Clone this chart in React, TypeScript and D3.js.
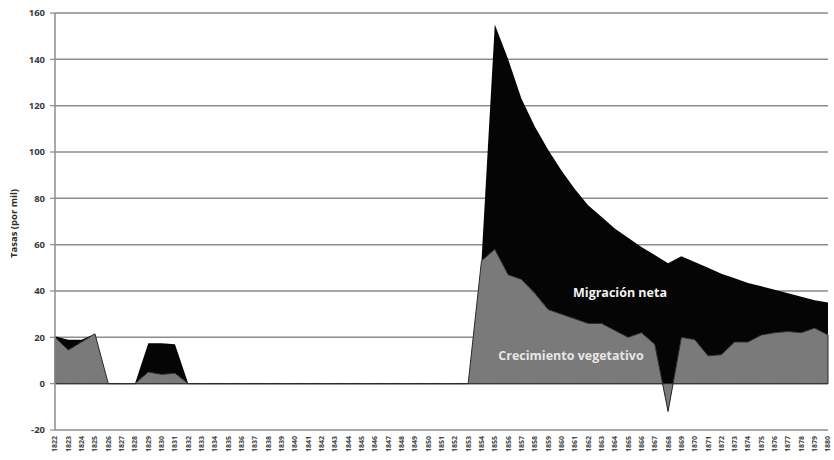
import React from "react";
import * as d3 from "d3";

// categorías (años)
const years = [
	1822, 1823, 1824, 1825, 1826, 1827, 1828, 1829, 1830, 1831, 1832, 1833, 1834, 1835, 1836,
	1837, 1838, 1839, 1840, 1841, 1842, 1843, 1844, 1845, 1846, 1847, 1848, 1849, 1850, 1851,
	1852, 1853, 1854, 1855, 1856, 1857, 1858, 1859, 1860, 1861, 1862, 1863, 1864, 1865, 1866,
	1867, 1868, 1869, 1870, 1871, 1872, 1873, 1874, 1875, 1876, 1877, 1878, 1879, 1880,
];

// Crecimiento vegetativo (por mil)
const vegetativo = [
	20, 14.5, 18, 21.5, 0, 0, 0, 5, 4, 4.5, 0, 0, 0, 0, 0,
	0, 0, 0, 0, 0, 0, 0, 0, 0, 0, 0, 0, 0, 0, 0,
	0, 0, 53, 58, 47, 45, 39, 32, 30, 28, 26, 26, 23, 20, 22,
	17, -12, 20, 19, 12, 12.5, 18, 18, 21, 22, 22.5, 22, 24, 21,
];

// Migración neta (por mil)
const migracion = [
	0.5, 4.5, 1, 0, 0, 0, 0, 12.5, 13.5, 12.5, 0, 0, 0, 0, 0,
	0, 0, 0, 0, 0, 0, 0, 0, 0, 0, 0, 0, 0, 0, 0,
	0, 0, 0, 97, 93, 78, 72, 69, 62, 56, 51, 46, 44, 43, 37,
	38.5, 64, 35, 33.5, 38, 35, 27.5, 25.5, 21, 18.5, 16.5, 15.5, 12, 14,
];

const yTicks = [-20, 0, 20, 40, 60, 80, 100, 120, 140, 160];

const W = 834;
const H = 460;
const left = 55;
const right = 828;
const top = 13;
const bottom = 430;

export default function App() {
	const x = d3.scalePoint<number>().domain(years).range([left, right]);
	const y = d3.scaleLinear().domain([-20, 160]).range([bottom, top]);

	const rows = years.map((yr, i) => ({ year: yr, veg: vegetativo[i], mig: migracion[i] }));
	const series = d3.stack<any>().keys(["veg", "mig"]).offset(d3.stackOffsetNone)(rows);

	const area = d3
		.area<any>()
		.x((d) => x(d.data.year) as number)
		.y0((d) => y(d[0]))
		.y1((d) => y(d[1]));

	const font = "'Open Sans', 'DejaVu Sans', sans-serif";

	return (
		<svg
			width={W}
			height={H}
			style={{ position: "absolute", left: 0, top: 0, background: "#fff" }}
			fontFamily={font}
		>
			<rect width={W} height={H} fill="#fff" />
			{/* grid */}
			{yTicks.map((t) => (
				<line
					key={t}
					x1={left}
					x2={right}
					y1={y(t)}
					y2={y(t)}
					stroke="#8c8c8c"
					strokeWidth={1.5}
				/>
			))}
			{/* áreas */}
			<path d={area(series[1] as any) || ""} fill="#050505" />
			<path d={area(series[0] as any) || ""} fill="#7a7a7a" stroke="#2a2a2a" strokeWidth={1} />
			{/* eje y */}
			<line x1={left} x2={left} y1={top} y2={bottom} stroke="#8c8c8c" strokeWidth={1.5} />
			{yTicks.map((t) => (
				<g key={"t" + t}>
					<line x1={left - 5} x2={left} y1={y(t)} y2={y(t)} stroke="#8c8c8c" strokeWidth={1.2} />
					<text
						x={left - 10}
						y={y(t)}
						dy="0.35em"
						textAnchor="end"
						fontSize={9.5}
						fontWeight="bold"
						fill="#3a3a3a"
					>
						{t}
					</text>
				</g>
			))}
			<text
				transform={`translate(14,${(top + bottom) / 2 + 2}) rotate(-90)`}
				textAnchor="middle"
				dy="0.35em"
				fontSize={9.5}
				fontWeight="bold"
				fill="#2a2a2a"
			>
				Tasas (por mil)
			</text>
			{/* eje x */}
			{years.map((yr) => (
				<text
					key={yr}
					transform={`translate(${x(yr)},${bottom + 6}) rotate(-90)`}
					textAnchor="end"
					dy="0.35em"
					fontSize={7}
					fontWeight="bold"
					fill="#444"
				>
					{yr}
				</text>
			))}
			{/* etiquetas */}
			<text x={620} y={293} dy="0.35em" textAnchor="middle" fontSize={12.5} fontWeight="bold" fill="#f2f2f2">
				Migración neta
			</text>
			<text x={571} y={356} dy="0.35em" textAnchor="middle" fontSize={12.5} fontWeight="bold" fill="#e6e6e6">
				Crecimiento vegetativo
			</text>
		</svg>
	);
}
